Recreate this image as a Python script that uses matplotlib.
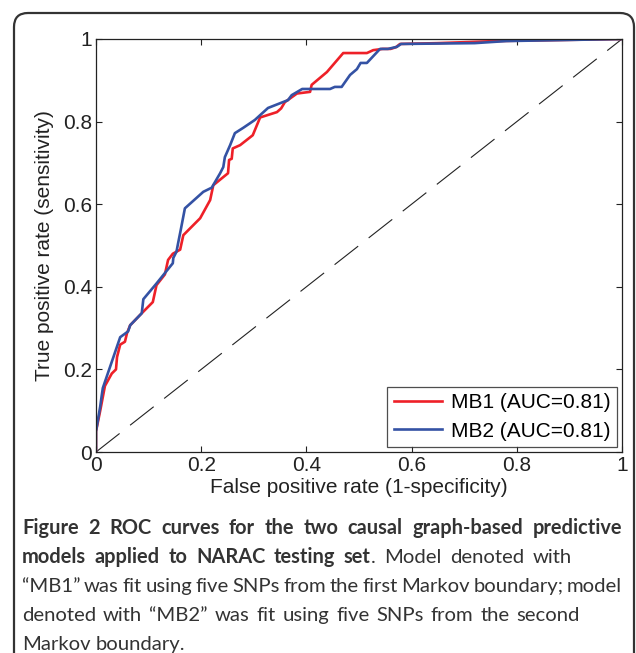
import matplotlib
matplotlib.use("Agg")
import matplotlib.pyplot as plt
from matplotlib.patches import FancyBboxPatch

# ROC points
fpr_mb1 = [0, 0, 0.008, 0.017, 0.03, 0.038, 0.040, 0.046, 0.055, 0.059, 0.065, 0.087,
           0.108, 0.115, 0.131, 0.137, 0.146, 0.16, 0.166, 0.198, 0.217, 0.223, 0.251,
           0.253, 0.258, 0.26, 0.274, 0.298, 0.312, 0.344, 0.352, 0.359, 0.382, 0.407,
           0.41, 0.439, 0.47, 0.515, 0.527, 0.545, 0.56, 0.57, 0.578, 0.65, 0.76, 1.0]
tpr_mb1 = [0, 0.05, 0.10, 0.16, 0.19, 0.20, 0.23, 0.26, 0.267, 0.288, 0.307, 0.336,
           0.363, 0.404, 0.43, 0.465, 0.48, 0.49, 0.525, 0.566, 0.61, 0.646, 0.675,
           0.707, 0.71, 0.735, 0.743, 0.767, 0.81, 0.823, 0.832, 0.847, 0.868, 0.872,
           0.889, 0.92, 0.966, 0.966, 0.973, 0.976, 0.976, 0.98, 0.988, 0.99, 0.995, 1.0]

fpr_mb2 = [0, 0, 0.008, 0.011, 0.013, 0.046, 0.061, 0.065, 0.087, 0.09, 0.115, 0.146,
           0.147, 0.153, 0.156, 0.161, 0.169, 0.204, 0.22, 0.236, 0.242, 0.245, 0.255,
           0.264, 0.28, 0.302, 0.327, 0.365, 0.372, 0.392, 0.445, 0.454, 0.467, 0.483,
           0.496, 0.503, 0.515, 0.54, 0.555, 0.572, 0.58, 0.72, 0.78, 1.0]
tpr_mb2 = [0, 0.05, 0.11, 0.138, 0.155, 0.278, 0.292, 0.307, 0.336, 0.37, 0.408, 0.457,
           0.47, 0.485, 0.505, 0.537, 0.59, 0.63, 0.64, 0.675, 0.69, 0.714, 0.743,
           0.772, 0.785, 0.804, 0.833, 0.852, 0.864, 0.879, 0.879, 0.884, 0.884, 0.913,
           0.927, 0.942, 0.942, 0.976, 0.976, 0.981, 0.988, 0.99, 0.995, 1.0]

labels = ["MB1 (AUC=0.81)", "MB2 (AUC=0.81)"]
ticks = [0, 0.2, 0.4, 0.6, 0.8, 1]
tick_labels = ["0", "0.2", "0.4", "0.6", "0.8", "1"]

caption_bold = "Figure 2 ROC curves for the two causal graph-based predictive models applied to NARAC testing set"
caption_rest = (". Model denoted with \u201cMB1\u201d was fit using five SNPs from the first Markov "
                "boundary; model denoted with \u201cMB2\u201d was fit using five SNPs from the second "
                "Markov boundary.")
# words per caption line and where each line ends (px), None = not justified
line_word_counts = [10, 9, 12, 11, 2]
line_ends = [622, 572, 622, 580, None]

plt.rcParams['font.family'] = ['Liberation Sans', 'DejaVu Sans']

W, H = 636, 653
fig = plt.figure(figsize=(W / 100, H / 100), dpi=100)
ax = fig.add_axes([96 / W, 1 - 452 / H, 526 / W, 413 / H])

ax.plot([0, 1], [0, 1], color='#222222', lw=0.8, dashes=(27, 12))
ax.plot(fpr_mb1, tpr_mb1, color='#ee2028', lw=1.9, label=labels[0])
ax.plot(fpr_mb2, tpr_mb2, color='#3452a4', lw=1.9, label=labels[1])

ax.set_xlim(0, 1)
ax.set_ylim(0, 1)
ax.set_xticks(ticks)
ax.set_xticklabels(tick_labels)
ax.set_yticks(ticks)
ax.set_yticklabels(tick_labels)
ax.tick_params(direction='in', top=True, right=True, length=4, width=0.8,
               labelsize=15, colors='#222222', pad=3)
for sp in ax.spines.values():
    sp.set_linewidth(0.9)
    sp.set_color('#222222')
ax.set_xlabel("False positive rate (1-specificity)", fontsize=15, color='#222222', labelpad=2)
ax.set_ylabel("True positive rate (sensitivity)", fontsize=15, color='#222222', labelpad=6)

leg = ax.legend(loc='lower right', fontsize=15, frameon=True, fancybox=False,
                borderaxespad=0.25, handlelength=2.3, handletextpad=0.45,
                labelspacing=0.45, borderpad=0.3)
leg.get_frame().set_edgecolor('#222222')
leg.get_frame().set_linewidth(0.9)

# outer rounded frame
box = FancyBboxPatch((0.14, -0.3), 6.20, 6.70, boxstyle="round,pad=0,rounding_size=0.14",
                     transform=fig.dpi_scale_trans, facecolor='none',
                     edgecolor='#333333', lw=1.6)
fig.patches.append(box)

# caption: words laid out one by one, lines justified like the journal's
cap_font = ['Lato', 'DejaVu Sans']
sizes = {'bold': 14.4, 'normal': 14.6}
renderer = fig.canvas.get_renderer()

words = [[(w, 'bold')] for w in caption_bold.split(' ')]
rest = caption_rest.split(' ')
words[-1].append((rest[0], 'normal'))   # "." sticks to "set"
words += [[(w, 'normal')] for w in rest[1:]]


def piece_width(text, weight):
    t = fig.text(0, 0, text, fontsize=sizes[weight], fontweight=weight, family=cap_font)
    w = t.get_window_extent(renderer).width
    t.remove()
    return w


space = piece_width('a a', 'normal') - piece_width('aa', 'normal')
y0 = 534
k = 0
for i, n in enumerate(line_word_counts):
    line = words[k:k + n]
    k += n
    widths = [sum(piece_width(t, wt) for t, wt in word) for word in line]
    if line_ends[i] is None:
        gap = space
    else:
        gap = (line_ends[i] - 22 - sum(widths)) / (len(line) - 1)
    x = 22
    y = 1 - (y0 + i * 29.0) / H
    for word in line:
        for text, weight in word:
            t = fig.text(x / W, y, text, fontsize=sizes[weight], fontweight=weight,
                         family=cap_font, color='#333333', va='baseline', ha='left')
            x = t.get_window_extent(renderer).x1
        x += gap

fig.savefig("out.png", dpi=100)
